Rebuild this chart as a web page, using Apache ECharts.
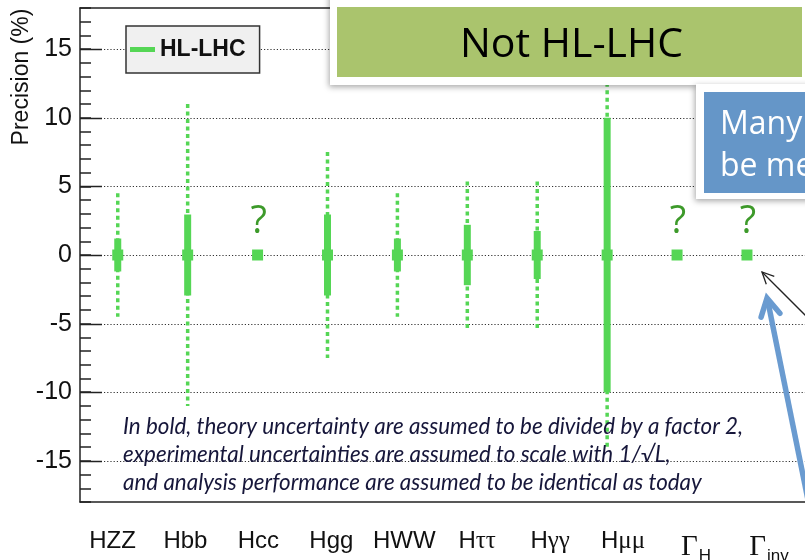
<!DOCTYPE html>
<html>
<head>
<meta charset="utf-8">
<script src="https://cdn.jsdelivr.net/npm/echarts@6/dist/echarts.min.js"></script>
<style>
  html, body { margin: 0; padding: 0; background: #ffffff; }
  #chart { width: 805px; height: 560px; }
</style>
</head>
<body>
<div id="chart"></div>
<script>
// Higgs coupling precision projections (HL-LHC)
const categories   = ['HZZ', 'Hbb', 'Hcc', 'Hgg', 'HWW', 'Hττ', 'Hγγ', 'Hμμ', 'ΓH', 'Γinv'];
const centralValue = [0, 0, 0, 0, 0, 0, 0, 0, 0, 0];
// bold bars: theory uncertainty divided by 2 (half-width, %)
const boldErr      = [1.2, 2.95, null, 2.95, 1.2, 2.2, 1.75, 10.0, null, null];
// dotted bars: full uncertainty (half-width, %)
const fullErr      = [4.5, 11.0, null, 7.5, 4.5, 5.35, 5.35, 14.2, null, null];
// channels without a projection
const unknownMark  = [false, false, true, false, false, false, false, false, true, true];
const majorTicks   = [-15, -10, -5, 0, 5, 10, 15];
const yMin = -18, yMax = 18;

const GREEN = '#55d655';
const markXRange  = [-0.54, 9.83];
const labelXRange = [-0.4456, 9.494];

const chart = echarts.init(document.getElementById('chart'), null, { renderer: 'canvas' });

function catLabel(value) {
  const c = categories[value];
  if (c === undefined) return '';
  if (c[0] === 'Γ') return '{g|Γ}{s|' + c.slice(1) + '}';
  if (/^H[τγμ]/.test(c)) return '{n|H}{gr|' + c.slice(1) + '}';
  return '{n|' + c + '}';
}

function arrowHead(tip, tail, len, halfAngle) {
  const ang = Math.atan2(tail[1] - tip[1], tail[0] - tip[0]);
  return [
    [tip[0] + len * Math.cos(ang + halfAngle), tip[1] + len * Math.sin(ang + halfAngle)],
    tip,
    [tip[0] + len * Math.cos(ang - halfAngle), tip[1] + len * Math.sin(ang - halfAngle)]
  ];
}

const blackTail = [806, 316], blackTip = [762, 272];
const blueTail = [808, 500], blueTip = [767, 298];

const option = {
  backgroundColor: '#ffffff',
  animation: false,
  grid: { left: 80, top: 8, right: 0, bottom: 58, outerBoundsMode: 'none' },
  legend: {
    data: [{ name: 'HL-LHC', icon: 'rect' }],
    left: 126, top: 26,
    itemWidth: 25, itemHeight: 5,
    padding: [12, 14, 12, 4],
    backgroundColor: '#f0f0f0',
    borderColor: '#333333', borderWidth: 1.5, borderRadius: 0,
    selectedMode: false,
    textStyle: { fontFamily: 'Liberation Sans', fontWeight: 'bold', fontSize: 23, color: '#111111' }
  },
  xAxis: [
    {
      // category labels along the bottom frame
      type: 'value', position: 'bottom',
      min: labelXRange[0], max: labelXRange[1],
      axisLine: { show: true, onZero: false, lineStyle: { color: '#222222', width: 1.5 } },
      axisTick: { show: false },
      splitLine: { show: false },
      axisLabel: {
        show: true,
        customValues: [0, 1, 2, 3, 4, 5, 6, 7, 8, 9],
        margin: 27,
        formatter: catLabel,
        rich: {
          n:  { fontFamily: 'Liberation Sans', fontSize: 24, color: '#111111' },
          gr: { fontFamily: 'Liberation Serif', fontSize: 25, color: '#111111' },
          g:  { fontFamily: 'Liberation Serif', fontSize: 29, color: '#111111' },
          s:  { fontFamily: 'Liberation Sans', fontSize: 17, color: '#111111', padding: [19, 0, 0, 1] }
        }
      }
    },
    {
      // coordinate axis for the measurements; drawn as the top frame
      type: 'value', position: 'top',
      min: markXRange[0], max: markXRange[1],
      axisLine: { show: true, onZero: false, lineStyle: { color: '#222222', width: 1.5 } },
      axisTick: { show: false },
      axisLabel: { show: false },
      splitLine: { show: false }
    }
  ],
  yAxis: {
    type: 'value',
    min: yMin, max: yMax, interval: 1,
    axisLine: { show: true, onZero: false, lineStyle: { color: '#222222', width: 1.5 } },
    axisTick: { show: true, inside: true, length: 11, lineStyle: { color: '#222222', width: 1.5 } },
    splitLine: { show: false },
    axisLabel: {
      margin: 8,
      fontFamily: 'Liberation Sans', fontSize: 25, color: '#111111',
      formatter: v => (v % 5 === 0 ? String(v) : '')
    }
  },
  graphic: [
    // y-axis title
    {
      type: 'text', x: 22, y: 77, rotation: Math.PI / 2, z: 10,
      style: { text: 'Precision (%)', fontFamily: 'Liberation Sans', fontSize: 23, fill: '#111111', align: 'center', verticalAlign: 'middle' }
    },
    // note on assumptions
    {
      type: 'text', x: 123, y: 413, z: 10,
      style: {
        text: 'In bold, theory uncertainty are assumed to be divided by a factor 2,\nexperimental uncertainties are assumed to scale with 1/√L,\nand analysis performance are assumed to be identical as today',
        fontFamily: 'Lato', fontStyle: 'italic', fontSize: 22.4, lineHeight: 28,
        fill: '#16163a', align: 'left', verticalAlign: 'top'
      }
    },
    // "Not HL-LHC" banner
    {
      type: 'rect', shape: { x: 330, y: -10, width: 490, height: 95 }, z: 20,
      style: { fill: '#ffffff', shadowBlur: 6, shadowColor: 'rgba(0,0,0,0.35)', shadowOffsetX: -1, shadowOffsetY: 2 }
    },
    { type: 'rect', shape: { x: 337, y: 7, width: 465, height: 70 }, z: 21, style: { fill: '#aac46d' } },
    {
      type: 'text', x: 460, y: 45.5, z: 22,
      style: { text: 'Not HL-LHC', fontFamily: 'Open Sans', fontSize: 41, fill: '#000000', align: 'left', verticalAlign: 'middle' }
    },
    // blue call-out
    {
      type: 'rect', shape: { x: 696, y: 84, width: 130, height: 115 }, z: 23,
      style: { fill: '#ffffff', shadowBlur: 6, shadowColor: 'rgba(0,0,0,0.35)', shadowOffsetX: -1, shadowOffsetY: 2 }
    },
    { type: 'rect', shape: { x: 704, y: 92, width: 120, height: 101 }, z: 24, style: { fill: '#6596c8' } },
    {
      type: 'text', x: 720, y: 104, z: 25,
      style: { text: 'Many\nbe measured', fontFamily: 'Open Sans', fontSize: 32, lineHeight: 41.7, fill: '#ffffff', align: 'left', verticalAlign: 'top' }
    },
    // arrows pointing at the total-width point
    {
      type: 'line', z: 30,
      shape: { x1: blackTail[0], y1: blackTail[1], x2: blackTip[0], y2: blackTip[1] },
      style: { stroke: '#222222', lineWidth: 1.3 }
    },
    {
      type: 'polyline', z: 30,
      shape: { points: arrowHead(blackTip, blackTail, 13, 0.45) },
      style: { stroke: '#222222', lineWidth: 1.3, fill: null }
    },
    {
      type: 'line', z: 30,
      shape: { x1: blueTail[0], y1: blueTail[1], x2: blueTip[0] + 1, y2: blueTip[1] + 4 },
      style: { stroke: '#6a9bd0', lineWidth: 5.5 }
    },
    {
      type: 'polyline', z: 30,
      shape: { points: arrowHead(blueTip, blueTail, 20, 0.5) },
      style: { stroke: '#6a9bd0', lineWidth: 5.5, fill: null, lineJoin: 'miter', lineCap: 'round' }
    }
  ],
  series: [
    {
      // major ticks and dotted grid lines
      name: 'grid',
      type: 'custom',
      xAxisIndex: 1,
      silent: true,
      z: 1,
      data: majorTicks.map(v => [markXRange[0], v]),
      renderItem: (params, api) => {
        const cs = params.coordSys;
        const y = Math.round(api.coord([markXRange[0], api.value(1)])[1]) + 0.5;
        return {
          type: 'group',
          children: [
            { type: 'line', shape: { x1: cs.x, y1: y, x2: cs.x + 22, y2: y }, style: { stroke: '#222222', lineWidth: 1.5 } },
            { type: 'line', shape: { x1: cs.x + 24, y1: y, x2: cs.x + cs.width, y2: y }, style: { stroke: '#333333', lineWidth: 1, lineDash: [1.2, 2] } }
          ]
        };
      }
    },
    {
      name: 'HL-LHC',
      type: 'custom',
      xAxisIndex: 1,
      z: 5,
      itemStyle: { color: GREEN },
      data: categories.map((c, i) => [i, centralValue[i], boldErr[i] || 0, fullErr[i] || 0, unknownMark[i] ? 1 : 0]),
      renderItem: (params, api) => {
        const x = api.value(0), c = api.value(1);
        const bold = api.value(2), full = api.value(3), unk = api.value(4);
        const p0 = api.coord([x, c]);
        const children = [];
        if (full > 0) {
          const hi = api.coord([x, c + full])[1], lo = api.coord([x, c - full])[1];
          children.push({ type: 'line', shape: { x1: p0[0], y1: hi, x2: p0[0], y2: lo }, style: { stroke: GREEN, lineWidth: 3.5, lineDash: [4, 3.5] } });
        }
        if (bold > 0) {
          const hi = api.coord([x, c + bold])[1], lo = api.coord([x, c - bold])[1];
          children.push({ type: 'rect', shape: { x: p0[0] - 3.5, y: hi, width: 7, height: lo - hi }, style: { fill: GREEN } });
        }
        children.push({ type: 'rect', shape: { x: p0[0] - 5.5, y: p0[1] - 5.5, width: 11, height: 11 }, style: { fill: GREEN } });
        if (unk) {
          children.push({
            type: 'text', x: p0[0] + 1, y: p0[1] - 33,
            style: { text: '?', fontFamily: 'Open Sans', fontSize: 38, fill: '#3d9a2a', align: 'center', verticalAlign: 'middle' }
          });
        }
        return { type: 'group', children };
      }
    }
  ]
};

chart.setOption(option);
</script>
</body>
</html>
